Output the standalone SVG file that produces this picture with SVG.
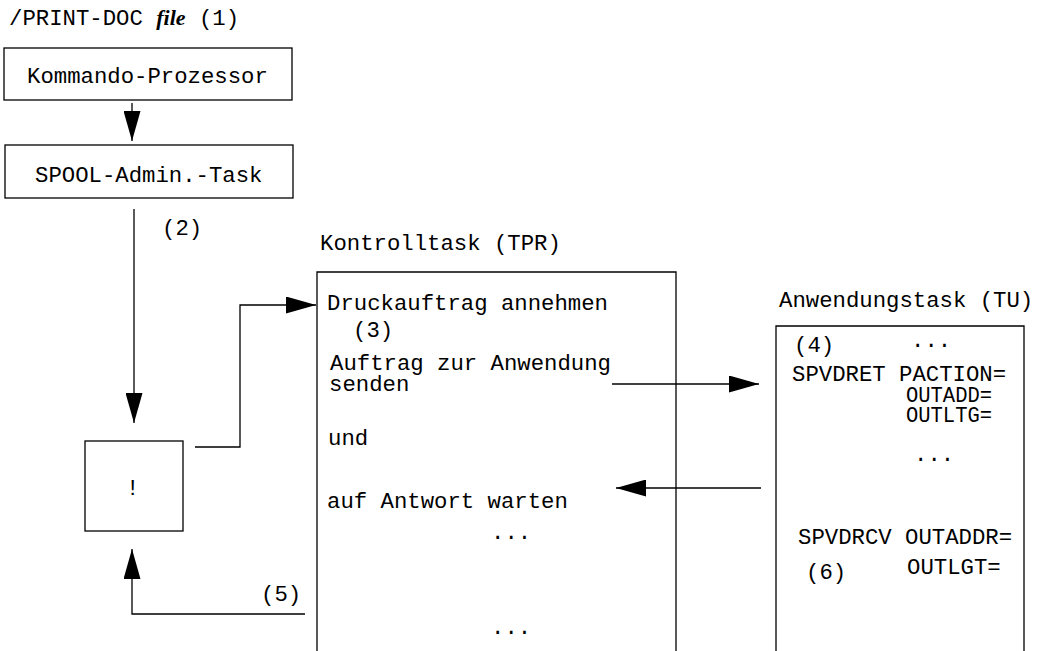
<svg xmlns="http://www.w3.org/2000/svg" width="1047" height="651" viewBox="0 0 1047 651">
  <style>
    .t { font-family: "Liberation Mono", "DejaVu Sans Mono", monospace; font-size: 22.3px; fill: #000; }
    .box { fill: none; stroke: #000; stroke-width: 1.3; }
    .line { fill: none; stroke: #000; stroke-width: 1.3; }
    .it { font-family: "Liberation Serif", "Times New Roman", serif; font-style: italic; font-weight: bold; font-size: 22px; }
  </style>
  <defs>
    <marker id="arrow" markerUnits="userSpaceOnUse" markerWidth="30" markerHeight="17" refX="30" refY="8.5" orient="auto">
      <path d="M0,0 L30,8.5 L0,17 Z" fill="#000"/>
    </marker>
  </defs>
  <rect width="1047" height="651" fill="#fff"/>

  <!-- command line -->
  <g id="command">
    <text class="t" x="9" y="25">/PRINT-DOC <tspan class="it">file</tspan> (1)</text>
  </g>

  <g id="kommando-prozessor">
    <rect class="box" x="4" y="48" width="288" height="52"/>
    <text class="t" x="27" y="83">Kommando-Prozessor</text>
  </g>

  <g id="spool-admin-task">
    <rect class="box" x="5" y="145" width="288" height="53"/>
    <text class="t" x="35" y="182">SPOOL-Admin.-Task</text>
  </g>

  <g id="switch">
    <rect class="box" x="85" y="441" width="98" height="90"/>
    <text class="t" x="126" y="495">!</text>
  </g>

  <g id="kontrolltask">
    <text class="t" x="320" y="250">Kontrolltask (TPR)</text>
    <path class="box" d="M317,651 V272 H676 V651"/>
    <text class="t" x="327" y="310">Druckauftrag annehmen</text>
    <text class="t" x="353" y="337">(3)</text>
    <text class="t" x="330" y="370">Auftrag zur Anwendung</text>
    <text class="t" x="329" y="391">senden</text>
    <text class="t" x="328" y="445">und</text>
    <text class="t" x="327" y="508">auf Antwort warten</text>
    <text class="t" x="491" y="539">...</text>
    <text class="t" x="491" y="634">...</text>
  </g>

  <g id="anwendungstask">
    <text class="t" x="779" y="307">Anwendungstask (TU)</text>
    <path class="box" d="M776,651 V326 H1024 V651"/>
    <text class="t" x="794" y="352">(4)</text>
    <text class="t" x="911" y="347">...</text>
    <text class="t" x="792" y="381">SPVDRET PACTION=</text>
    <text class="t" x="906" y="402" textLength="86" lengthAdjust="spacingAndGlyphs">OUTADD=</text>
    <text class="t" x="906" y="422" textLength="86" lengthAdjust="spacingAndGlyphs">OUTLTG=</text>
    <text class="t" x="914" y="461">...</text>
    <text class="t" x="798" y="544">SPVDRCV OUTADDR=</text>
    <text class="t" x="806" y="579">(6)</text>
    <text class="t" x="907" y="574">OUTLGT=</text>
  </g>

  <g id="connectors">
    <path class="line" d="M132,103 V141" marker-end="url(#arrow)"/>
    <path class="line" d="M134,209 V423" marker-end="url(#arrow)"/>
    <text class="t" x="162" y="235">(2)</text>
    <path class="line" d="M195,447 H240 V305 H316" marker-end="url(#arrow)"/>
    <path class="line" d="M612,384 H759" marker-end="url(#arrow)"/>
    <path class="line" d="M761,488 H616" marker-end="url(#arrow)"/>
    <path class="line" d="M305,614 H132 V549" marker-end="url(#arrow)"/>
    <text class="t" x="261" y="601">(5)</text>
  </g>
</svg>
